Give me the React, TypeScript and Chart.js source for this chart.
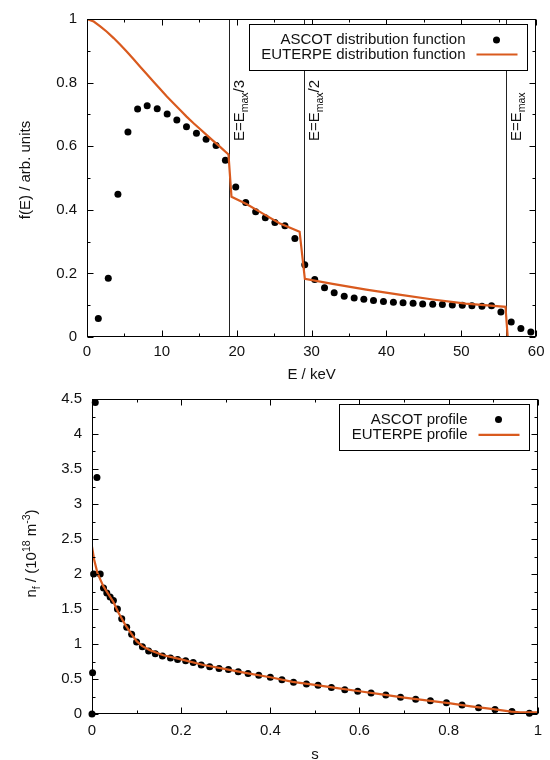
import React, { useEffect, useRef } from 'react';
import { Chart, registerables } from 'chart.js';

Chart.register(...registerables);

const FONT_FAMILY = '"Liberation Sans", Arial, Helvetica, sans-serif';
const FONT_SIZE = 15;
const ORANGE = '#d95a1e';

// ---------- top panel: distribution function ----------
const energyAscot = [
  1.51, 2.84, 4.13, 5.47, 6.76, 8.04, 9.38, 10.71, 12.0, 13.29, 14.62, 15.91, 17.24, 18.49, 19.87,
  21.2, 22.53, 23.82, 25.1, 26.44, 27.77, 29.09, 30.42, 31.73, 33.02, 34.36, 35.69, 36.98, 38.27,
  39.6, 40.93, 42.22, 43.56, 44.84, 46.18, 47.47, 48.8, 50.13, 51.42, 52.76, 54.04, 55.29, 56.67,
  57.96, 59.29,
];
const fAscot = [
  0.058, 0.185, 0.449, 0.645, 0.717, 0.727, 0.718, 0.701, 0.682, 0.661, 0.641, 0.622, 0.602, 0.556,
  0.472, 0.423, 0.394, 0.375, 0.36, 0.35, 0.31, 0.227, 0.181, 0.155, 0.139, 0.128, 0.123, 0.119,
  0.115, 0.112, 0.109, 0.108, 0.106, 0.104, 0.103, 0.102, 0.101, 0.1, 0.098, 0.097, 0.098, 0.079,
  0.047, 0.027, 0.016,
];
const energyEuterpe = [
  0, 0.9, 1.77, 2.65, 3.56, 4.45, 5.33, 6.2, 7.1, 8.0, 8.89, 9.8, 10.67, 11.55, 12.44, 13.3, 14.2,
  15.1, 16.0, 16.9, 17.78, 18.9, 19.3, 21.3, 23.5, 25.7, 28.4, 29.1, 32.8, 37.3, 41.7, 46.2, 50.6,
  55.9, 56.2, 60,
];
const fEuterpe = [
  1.0, 0.992, 0.977, 0.96, 0.94, 0.919, 0.897, 0.874, 0.85, 0.826, 0.803, 0.779, 0.756, 0.735,
  0.714, 0.693, 0.673, 0.654, 0.635, 0.616, 0.598, 0.574, 0.441, 0.418, 0.388, 0.358, 0.331,
  0.183, 0.167, 0.149, 0.133, 0.118, 0.105, 0.095, 0, 0,
];
const energyMarkers = [19, 29, 56];
const energyMarkerLabels = ['E=E_{max}/3', 'E=E_{max}/2', 'E=E_{max}'];
const topXTicks = [0, 10, 20, 30, 40, 50, 60];
const topXMinor = [5, 15, 25, 35, 45, 55];
const topYTicks = [0, 0.2, 0.4, 0.6, 0.8, 1];
const topYMinor = [0.1, 0.3, 0.5, 0.7, 0.9];

// ---------- bottom panel: density profile ----------
const sAscot = [
  0, 0.0013, 0.0036, 0.0073, 0.0111, 0.0184, 0.0258, 0.0332, 0.0407, 0.048, 0.057, 0.0667, 0.0778,
  0.0889, 0.1, 0.113, 0.127, 0.142, 0.158, 0.176, 0.192, 0.21, 0.227, 0.245, 0.264, 0.285, 0.306,
  0.328, 0.35, 0.374, 0.4, 0.426, 0.452, 0.481, 0.507, 0.537, 0.567, 0.596, 0.626, 0.659, 0.692,
  0.726, 0.759, 0.795, 0.83, 0.867, 0.904, 0.942, 0.981,
];
const nAscot = [
  0, 0.59, 2.0, 4.45, 3.38, 2.0, 1.8, 1.73, 1.67, 1.62, 1.5, 1.36, 1.24, 1.14, 1.03, 0.96, 0.9,
  0.86, 0.83, 0.8, 0.78, 0.76, 0.735, 0.7, 0.675, 0.65, 0.635, 0.605, 0.58, 0.555, 0.525, 0.49,
  0.455, 0.43, 0.41, 0.38, 0.345, 0.325, 0.3, 0.273, 0.24, 0.212, 0.188, 0.16, 0.127, 0.09, 0.065,
  0.037, 0.009,
];
const sEuterpe = [
  0, 0.005, 0.012, 0.025, 0.035, 0.048, 0.06, 0.075, 0.09, 0.1, 0.113, 0.13, 0.16, 0.2, 0.25, 0.3,
  0.35, 0.4, 0.45, 0.5, 0.55, 0.6, 0.65, 0.7, 0.75, 0.8, 0.85, 0.9, 0.94, 0.96, 1.0,
];
const nEuterpe = [
  2.39, 2.2, 2.02, 1.83, 1.73, 1.6, 1.44, 1.27, 1.13, 1.04, 0.97, 0.91, 0.84, 0.78, 0.7, 0.64, 0.58,
  0.525, 0.46, 0.415, 0.37, 0.325, 0.28, 0.235, 0.195, 0.155, 0.11, 0.07, 0.035, 0.025, 0.025,
];
const botXTicks = [0, 0.2, 0.4, 0.6, 0.8, 1];
const botXMinor = [0.1, 0.3, 0.5, 0.7, 0.9];
const botYTicks = [0, 0.5, 1, 1.5, 2, 2.5, 3, 3.5, 4, 4.5];
const botYMinor = [0.25, 0.75, 1.25, 1.75, 2.25, 2.75, 3.25, 3.75, 4.25];

// ---------- rich text helper (sub/superscripts) ----------
type Seg = { t: string; k: number };
function parseRich(s: string): Seg[] {
  const segs: Seg[] = [];
  const re = /([_^])\{([^}]*)\}/g;
  let last = 0;
  let m: RegExpExecArray | null;
  while ((m = re.exec(s))) {
    if (m.index > last) segs.push({ t: s.slice(last, m.index), k: 0 });
    segs.push({ t: m[2], k: m[1] === '_' ? 1 : -1 });
    last = re.lastIndex;
  }
  if (last < s.length) segs.push({ t: s.slice(last), k: 0 });
  return segs;
}
function drawRich(
  ctx: CanvasRenderingContext2D,
  s: string,
  x: number,
  y: number,
  size: number,
  align: 'left' | 'center',
  rotate: boolean
) {
  const segs = parseRich(s);
  const small = size * 0.7;
  const font = (sz: number) => `${sz}px ${FONT_FAMILY}`;
  let w = 0;
  const widths = segs.map((g) => {
    ctx.font = font(g.k ? small : size);
    const ww = ctx.measureText(g.t).width;
    w += ww;
    return ww;
  });
  ctx.save();
  ctx.translate(x, y);
  if (rotate) ctx.rotate(-Math.PI / 2);
  let cx = align === 'center' ? -w / 2 : 0;
  ctx.textBaseline = 'alphabetic';
  ctx.textAlign = 'left';
  segs.forEach((g, i) => {
    ctx.font = font(g.k ? small : size);
    const dy = g.k === 1 ? size * 0.28 : g.k === -1 ? -size * 0.42 : 0;
    ctx.fillText(g.t, cx, dy);
    cx += widths[i];
  });
  ctx.restore();
}

type PanelCfg = {
  xMajor: number[];
  xMinor: number[];
  yMajor: number[];
  yMinor: number[];
  xTitle: string;
  xTitleY: number;
  yTitle: string;
  yTitleX: number;
  yTitleYOffset: number;
  markers?: number[];
  markerLabels?: string[];
  markerLabelY?: number;
  legendRowY: number[];
};

function makeFramePlugin(cfg: PanelCfg) {
  return {
    id: 'panelFrame',
    beforeDatasetsDraw(chart: any) {
      const { ctx, chartArea: a } = chart;
      const xs = chart.scales.x;
      (cfg.markers || []).forEach((v, i) => {
        const px = Math.round(xs.getPixelForValue(v)) + 0.5;
        ctx.save();
        ctx.strokeStyle = '#222';
        ctx.lineWidth = 1;
        ctx.beginPath();
        ctx.moveTo(px, a.top);
        ctx.lineTo(px, a.bottom);
        ctx.stroke();
        ctx.fillStyle = '#111';
        drawRich(ctx, cfg.markerLabels![i], px + 14, cfg.markerLabelY!, FONT_SIZE, 'left', true);
        ctx.restore();
      });
    },
    afterDraw(chart: any) {
      const { ctx, chartArea: a } = chart;
      const xs = chart.scales.x;
      const ys = chart.scales.y;
      ctx.save();
      ctx.strokeStyle = '#000';
      ctx.lineWidth = 1;
      const L = Math.round(a.left) + 0.5;
      const R = Math.round(a.right) - 0.5;
      const T = Math.round(a.top) + 0.5;
      const B = Math.round(a.bottom) - 0.5;
      const seg = (x1: number, y1: number, x2: number, y2: number) => {
        ctx.beginPath();
        ctx.moveTo(x1, y1);
        ctx.lineTo(x2, y2);
        ctx.stroke();
      };
      const xt = (vals: number[], len: number) =>
        vals.forEach((v) => {
          const px = Math.round(xs.getPixelForValue(v)) + 0.5;
          seg(px, B, px, B - len);
          seg(px, T, px, T + len);
        });
      const yt = (vals: number[], len: number) =>
        vals.forEach((v) => {
          const py = Math.round(ys.getPixelForValue(v)) + 0.5;
          seg(L, py, L + len, py);
          seg(R, py, R - len, py);
        });
      xt(cfg.xMajor, 6);
      xt(cfg.xMinor, 3);
      yt(cfg.yMajor, 6);
      yt(cfg.yMinor, 3);
      ctx.strokeRect(L, T, R - L, B - T);

      // legend
      const ds = chart.data.datasets;
      ctx.font = `${FONT_SIZE}px ${FONT_FAMILY}`;
      const tw = Math.max(...ds.map((d: any) => ctx.measureText(d.label).width));
      const boxW = Math.round(tw + 12 + 62);
      const boxH = 46;
      const bx = Math.round(a.right - 9 - boxW) + 0.5;
      const by = Math.round(a.top + 5) + 0.5;
      ctx.fillStyle = '#fff';
      ctx.fillRect(bx, by, boxW, boxH);
      ctx.strokeStyle = '#000';
      ctx.strokeRect(bx, by, boxW, boxH);
      ds.forEach((d: any, i: number) => {
        const ry = by + cfg.legendRowY[i];
        ctx.fillStyle = '#111';
        ctx.textAlign = 'right';
        ctx.textBaseline = 'middle';
        ctx.font = `${FONT_SIZE}px ${FONT_FAMILY}`;
        ctx.fillText(d.label, bx + boxW - 62, ry);
        if (d.showLine === false) {
          ctx.fillStyle = '#000';
          ctx.beginPath();
          ctx.arc(bx + boxW - 31, ry, 3.5, 0, Math.PI * 2);
          ctx.fill();
        } else {
          ctx.strokeStyle = d.borderColor;
          ctx.lineWidth = 2.2;
          seg(bx + boxW - 51, ry, bx + boxW - 10, ry);
          ctx.strokeStyle = '#000';
          ctx.lineWidth = 1;
        }
      });

      // axis titles
      ctx.fillStyle = '#111';
      drawRich(ctx, cfg.xTitle, (a.left + a.right) / 2, cfg.xTitleY, FONT_SIZE, 'center', false);
      drawRich(
        ctx,
        cfg.yTitle,
        cfg.yTitleX,
        (a.top + a.bottom) / 2 + cfg.yTitleYOffset,
        FONT_SIZE,
        'center',
        true
      );
      ctx.restore();
    },
  };
}

function axisOpts(
  min: number,
  max: number,
  ticks: number[],
  horizontal: boolean,
  size: number,
  padding: number
) {
  return {
    type: 'linear',
    min,
    max,
    afterBuildTicks: (s: any) => {
      s.ticks = ticks.map((value) => ({ value }));
    },
    afterFit: (s: any) => {
      if (horizontal) s.height = size;
      else s.width = size;
    },
    ticks: {
      padding,
      color: '#111',
      font: { family: FONT_FAMILY, size: FONT_SIZE },
      maxRotation: 0,
      autoSkip: false,
      callback: (v: any) => String(Math.round(Number(v) * 1000) / 1000),
    },
    grid: { display: false, drawTicks: false },
    border: { display: false },
  };
}

function panelConfig(
  xs: number[],
  ys: number[],
  xl: number[],
  yl: number[],
  labels: [string, string],
  scales: any,
  padding: any,
  cfg: PanelCfg
): any {
  return {
    type: 'scatter',
    data: {
      datasets: [
        {
          label: labels[0],
          data: xs.map((x, i) => ({ x, y: ys[i] })),
          showLine: false,
          pointRadius: 3.5,
          pointHoverRadius: 3.5,
          pointBackgroundColor: '#000',
          pointBorderWidth: 0,
          clip: false,
          order: 2,
        },
        {
          label: labels[1],
          data: xl.map((x, i) => ({ x, y: yl[i] })),
          showLine: true,
          borderColor: ORANGE,
          borderWidth: 2.2,
          pointRadius: 0,
          pointHoverRadius: 0,
          tension: 0,
          order: 1,
        },
      ],
    },
    options: {
      responsive: false,
      animation: false,
      events: [],
      layout: { padding },
      plugins: { legend: { display: false }, tooltip: { enabled: false } },
      scales,
    },
    plugins: [makeFramePlugin(cfg)],
  };
}

export default function App() {
  const topRef = useRef<HTMLCanvasElement>(null);
  const botRef = useRef<HTMLCanvasElement>(null);

  useEffect(() => {
    const top = new Chart(
      topRef.current!,
      panelConfig(
        energyAscot,
        fAscot,
        energyEuterpe,
        fEuterpe,
        ['ASCOT distribution function', 'EUTERPE distribution function'],
        {
          x: axisOpts(0, 60, topXTicks, true, 43, 5.5),
          y: axisOpts(0, 1, topYTicks, false, 87, 10),
        },
        { left: 0, right: 13, top: 17, bottom: 0 },
        {
          xMajor: topXTicks,
          xMinor: topXMinor,
          yMajor: topYTicks,
          yMinor: topYMinor,
          xTitle: 'E / keV',
          xTitleY: 378.5,
          yTitle: 'f(E) / arb. units',
          yTitleX: 30,
          yTitleYOffset: -8,
          markers: energyMarkers,
          markerLabels: energyMarkerLabels,
          markerLabelY: 141,
          legendRowY: [15.4, 30],
        }
      )
    );
    const bot = new Chart(
      botRef.current!,
      panelConfig(
        sAscot,
        nAscot,
        sEuterpe,
        nEuterpe,
        ['ASCOT profile', 'EUTERPE profile'],
        {
          x: axisOpts(0, 1, botXTicks, true, 46, 8),
          y: axisOpts(0, 4.5, botYTicks, false, 92, 10),
        },
        { left: 0, right: 8, top: 16, bottom: 0 },
        {
          xMajor: botXTicks,
          xMinor: botXMinor,
          yMajor: botYTicks,
          yMinor: botYMinor,
          xTitle: 's',
          xTitleY: 378.5,
          yTitle: 'n_{f} / (10^{18} m^{-3})',
          yTitleX: 36,
          yTitleYOffset: -3,
          legendRowY: [15, 30.3],
        }
      )
    );
    return () => {
      top.destroy();
      bot.destroy();
    };
  }, []);

  return (
    <div
      style={{
        position: 'absolute',
        left: 0,
        top: 0,
        width: 550,
        height: 760,
        background: '#fff',
      }}
    >
      <canvas
        ref={topRef}
        width={550}
        height={380}
        style={{ position: 'absolute', left: 0, top: 0, width: 550, height: 380 }}
      />
      <canvas
        ref={botRef}
        width={550}
        height={380}
        style={{ position: 'absolute', left: 0, top: 380, width: 550, height: 380 }}
      />
    </div>
  );
}
